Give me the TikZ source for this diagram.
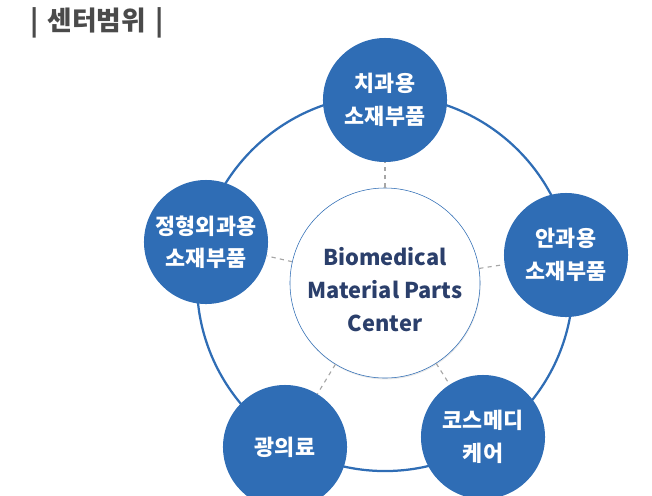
\documentclass[tikz,border=0pt]{standalone}
\usepackage{fontspec}
\setmainfont{Noto Sans CJK KR}
\usetikzlibrary{positioning,shadows}
\definecolor{dotblue}{HTML}{2F6DB5}
\definecolor{hubnavy}{HTML}{2B3F6B}
\definecolor{titlegray}{HTML}{4A4A4A}
\tikzset{
  field/.style={
    circle,
    fill=dotblue,
    minimum size=3.1cm,
    inner sep=0pt,
    text=white,
    align=center,
    font=\bfseries\fontsize{15.5}{23}\selectfont},
  hub/.style={
    circle,
    draw=dotblue, thin,
    fill=white,
    minimum size=4.75cm,
    inner sep=0pt,
    drop shadow={opacity=0.18, shadow xshift=0.4pt, shadow yshift=-1pt}},
  hubtext/.style={
    text=hubnavy,
    align=center,
    font=\bfseries\fontsize{15.5}{23.5}\selectfont},
  ring/.style={draw=dotblue, line width=1.6pt},
  spoke/.style={draw=gray!70, line width=0.8pt, dash pattern=on 3pt off 3pt},
}

\begin{document}
\begin{tikzpicture}[x=0.025cm, y=-0.025cm]
  \useasboundingbox (0,0) rectangle (652,495);
  \clip (0,0) rectangle (652,495);
  % title
  \node[text=titlegray, font=\bfseries\fontsize{19}{22}\selectfont] (title) at (97,23) {|\,\,센터범위\,\,|};
  % outer ring
  \coordinate (mid) at (385,283);
  \draw[ring] (mid) circle[radius=4.7cm];
  % hub and spokes
  \node[hub] (hub) at (mid) {};
  \node[hubtext] (hubtext) at (385,290) {Biomedical\\Material Parts\\Center};
  \node[field] (dent) at (385,100) {치과용\\소재부품};
  \node[field] (eye) at (566,255) {안과용\\소재부품};
  \node[field] (ortho) at (206,242) {정형외과용\\소재부품};
  \node[field] (photo) at (285,447) {광의료};
  \node[field] (cosme) at (483,437) {코스메디\\케어};
  \foreach \f in {dent,eye,ortho,photo,cosme}
    \draw[spoke] (hub) -- (\f);
\end{tikzpicture}
\end{document}
